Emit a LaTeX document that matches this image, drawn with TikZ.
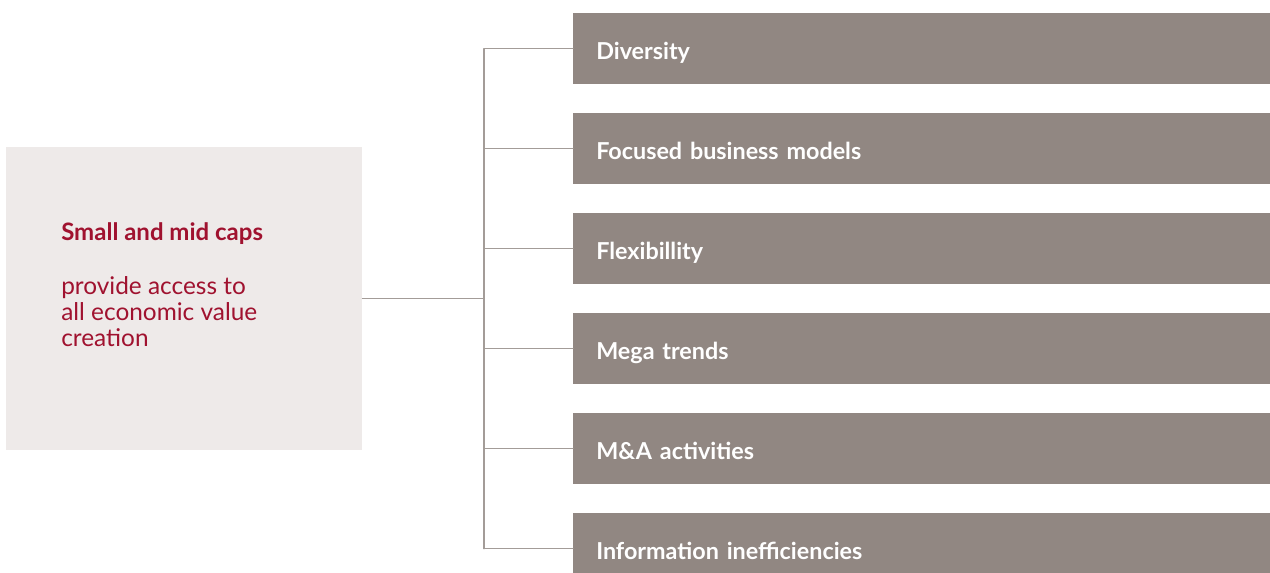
\documentclass[tikz,border=0pt]{standalone}
\usepackage{fontspec}
\setmainfont{Lato}
\usepackage{tikz}

\definecolor{capsred}{HTML}{A0122F}
\definecolor{panelgrey}{HTML}{EEEAE9}
\definecolor{barbrown}{HTML}{918782}
\definecolor{linegrey}{HTML}{A39C98}

\tikzset{
  panel/.style={fill=panelgrey, minimum width=267pt, minimum height=227.25pt, inner sep=0pt},
  bar/.style={fill=barbrown, text=white, font=\fontsize{17.5}{20}\selectfont\bfseries,
    minimum height=53.25pt, text width=488.25pt, text height=15.5pt, text depth=0pt,
    inner xsep=17.25pt, inner ysep=0pt, align=left},
  capstext/.style={text=capsred, inner sep=0pt, anchor=base west, font=\fontsize{18.3}{20}\selectfont},
  link/.style={draw=linegrey, line width=0.9pt}
}

\begin{document}
\begin{tikzpicture}[x=0.75pt, y=-0.75pt, line cap=round]
  \useasboundingbox (0,0) rectangle (1270,573);
  \clip (0,0) rectangle (1270,573);
  % left panel with its text
  \node[panel, anchor=north west] (caps) at (6,147) {};
  \node[capstext, font=\fontsize{18}{20}\selectfont\bfseries] (title) at (61,241) {Small and mid caps};
  \foreach \j/\line in {0/provide access to, 1/all economic value, 2/creation} {
    \node[capstext] (body\j) at (61,{295+\j*26}) {\line};
  }
  % the six bars on the right
  \foreach \i/\txt in {0/Diversity, 1/Focused business models, 2/Flexibillity,
                       3/Mega trends, 4/M\&A activities, 5/Information inefficiencies} {
    \node[bar, anchor=north west] (bar\i) at (573,{13+\i*100}) {\txt};
  }
  % connectors: panel to the spine, spine to every bar
  \coordinate (hub) at (484,297);
  \draw[link] (caps.east) -- (caps.east -| hub);
  \draw[link] (hub |- bar0.west) -- (hub |- bar5.west);
  \foreach \i in {0,...,5} {
    \draw[link] (hub |- bar\i.west) -- (bar\i.west);
  }
\end{tikzpicture}
\end{document}
